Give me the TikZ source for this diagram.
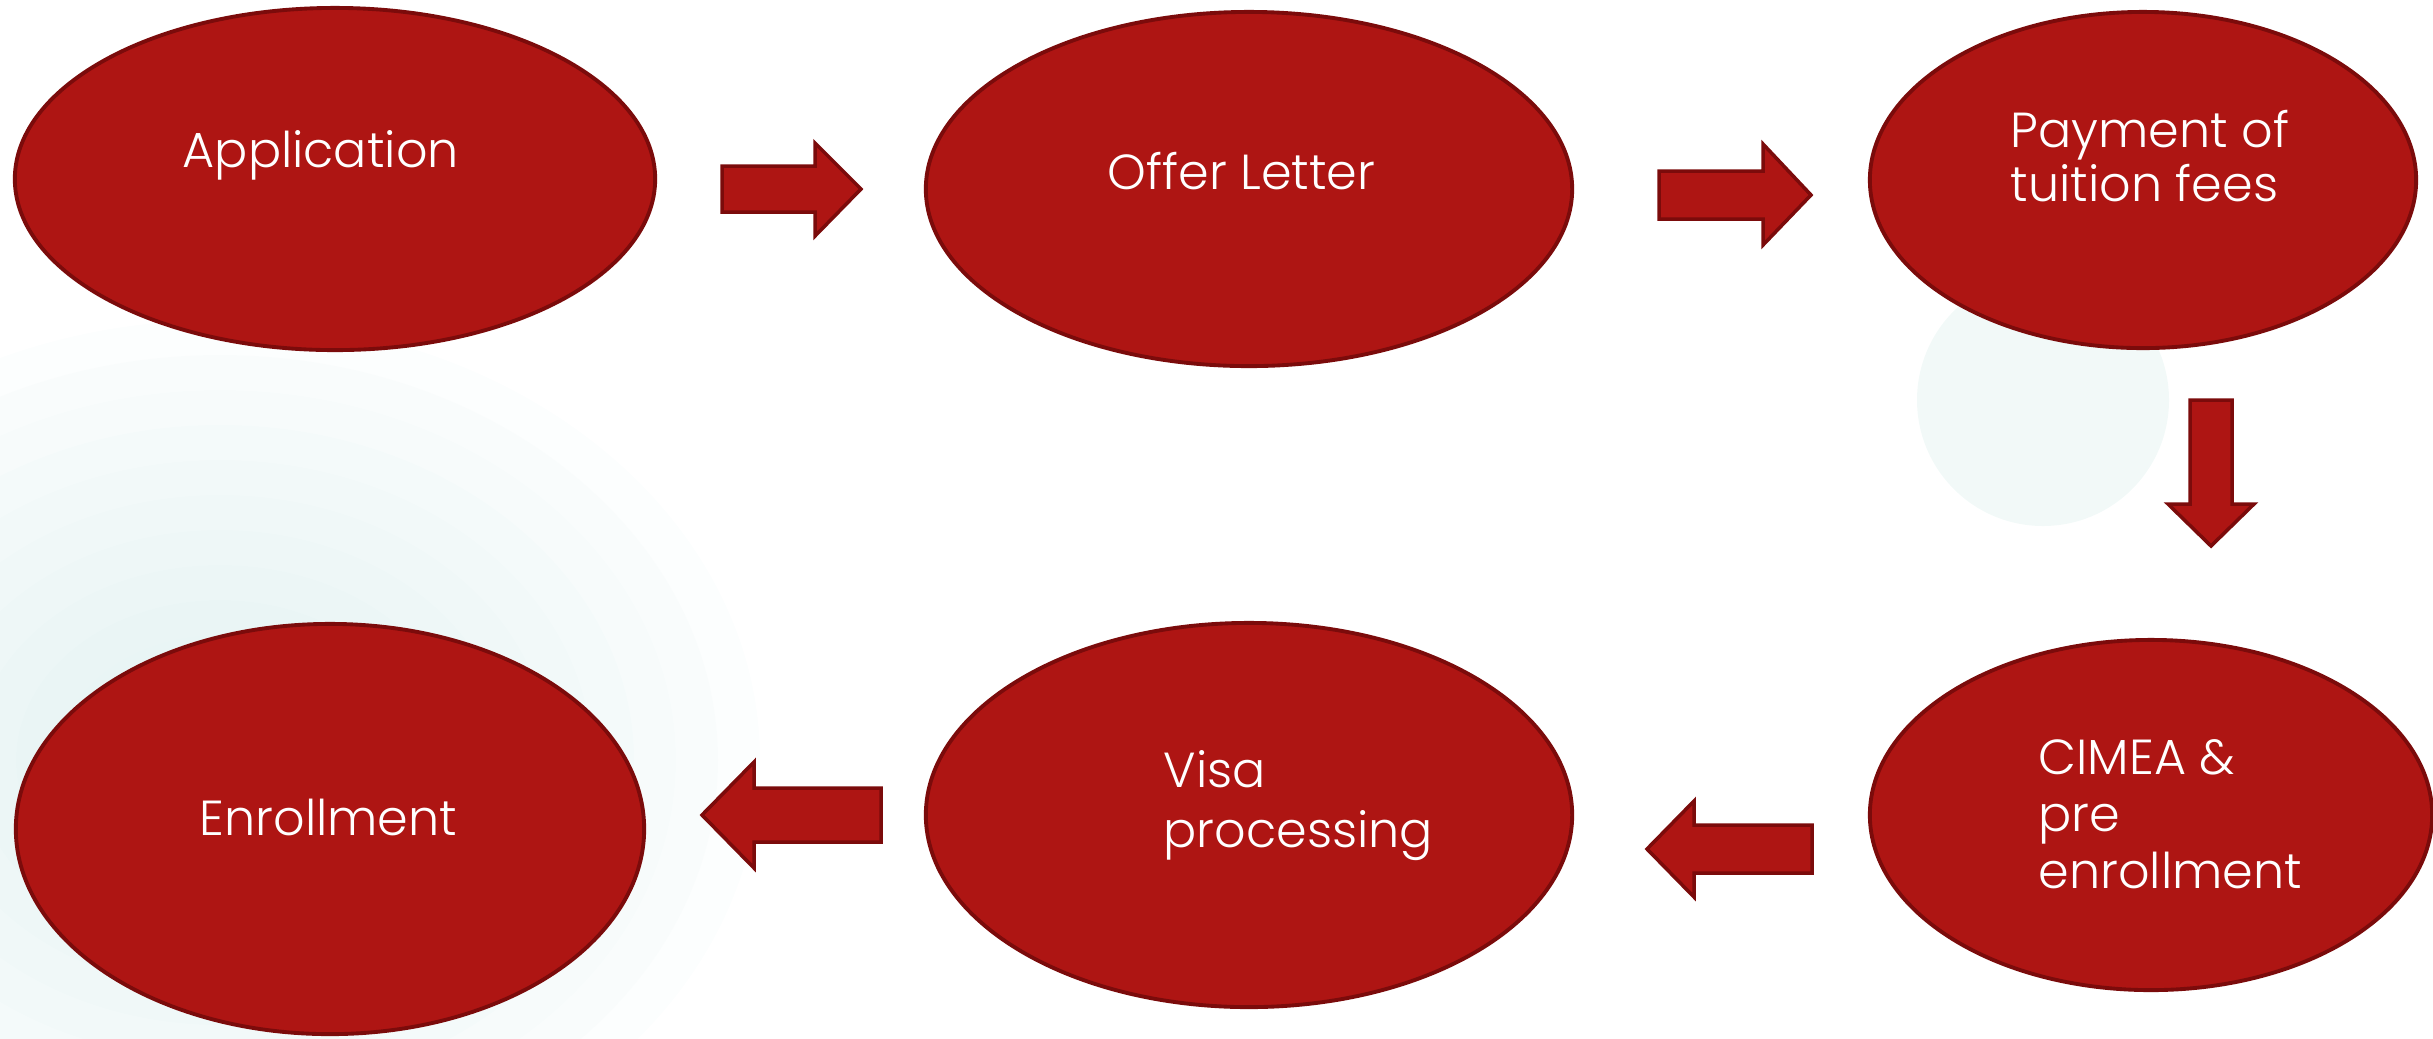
\documentclass[tikz,border=0pt]{standalone}
\usepackage{fontspec}
\setmainfont{Poppins}[UprightFont=* Light]
\usetikzlibrary{shapes.geometric}
\definecolor{boxfill}{HTML}{AE1513}
\definecolor{boxline}{HTML}{7B0B0B}
\definecolor{glow}{HTML}{CBE7E7}
\definecolor{paledot}{HTML}{F2F9F8}
\tikzset{
  stage/.style={ellipse, draw=boxline, fill=boxfill, line width=1.1pt, inner sep=0pt},
  blockarrow/.style={draw=boxline, fill=boxfill, line width=1pt, line join=miter},
  label text/.style={text=white, inner sep=0pt, align=left, anchor=base west},
  glowring/.style={fill=glow, fill opacity=0.055},
}
\begin{document}
\begin{tikzpicture}[x=0.01cm, y=-0.01cm]
\useasboundingbox (0,0) rectangle (2433,1038);
% background decorations
\begin{scope}
\clip (0,0) rectangle (2433,1038);
\foreach \k in {0,...,11}{
  \fill[glowring] (220,760) ellipse [x radius={540-42*\k}, y radius={440-35*\k}];
}
\end{scope}
\fill[paledot] (2043,400) circle [radius=126];

% stages
\node[stage, minimum width=6.40cm, minimum height=3.42cm] (app) at (335,179) {};
\node[stage, minimum width=6.46cm, minimum height=3.54cm] (offer) at (1249,189) {};
\node[stage, minimum width=5.46cm, minimum height=3.36cm] (pay) at (2143,180) {};
\node[stage, minimum width=5.62cm, minimum height=3.50cm] (cimea) at (2151,815) {};
\node[stage, minimum width=6.46cm, minimum height=3.84cm] (visa) at (1249,815) {};
\node[stage, minimum width=6.28cm, minimum height=4.10cm] (enrol) at (330,829) {};

% texts (base anchor = baseline of the last line)
\node[label text, font=\fontsize{14}{16}\selectfont] (tapp) at (182,167) {Application};
\node[label text, font=\fontsize{14}{16}\selectfont] (toffer) at (1107,189) {Offer Letter};
\node[label text, font=\fontsize{14}{13.7}\selectfont] (tpay) at (2010,201) {Payment of\\tuition fees};
\node[label text, font=\fontsize{14}{16.1}\selectfont] (tcimea) at (2038,888) {CIMEA \&\\pre\\enrollment};
\node[label text, font=\fontsize{14}{16.8}\selectfont] (tvisa) at (1163,847) {Visa\\processing};
\node[label text, font=\fontsize{14}{16}\selectfont] (tenrol) at (199,835) {Enrollment};

% block arrows
\draw[blockarrow] (722,166) -- (815,166) -- (815,143) -- (861,189) -- (815,236) -- (815,212) -- (722,212) -- cycle;
\draw[blockarrow] (1659,171) -- (1763,171) -- (1763,144) -- (1811,195) -- (1763,245) -- (1763,219) -- (1659,219) -- cycle;
\draw[blockarrow] (2190,400) -- (2232,400) -- (2232,504) -- (2254,504) -- (2211,546) -- (2168,504) -- (2190,504) -- cycle;
\draw[blockarrow] (1812,825) -- (1694,825) -- (1694,801) -- (1647,849) -- (1694,897) -- (1694,873) -- (1812,873) -- cycle;
\draw[blockarrow] (881,788) -- (754,788) -- (754,762) -- (702,815) -- (754,868) -- (754,842) -- (881,842) -- cycle;
\end{tikzpicture}
\end{document}
